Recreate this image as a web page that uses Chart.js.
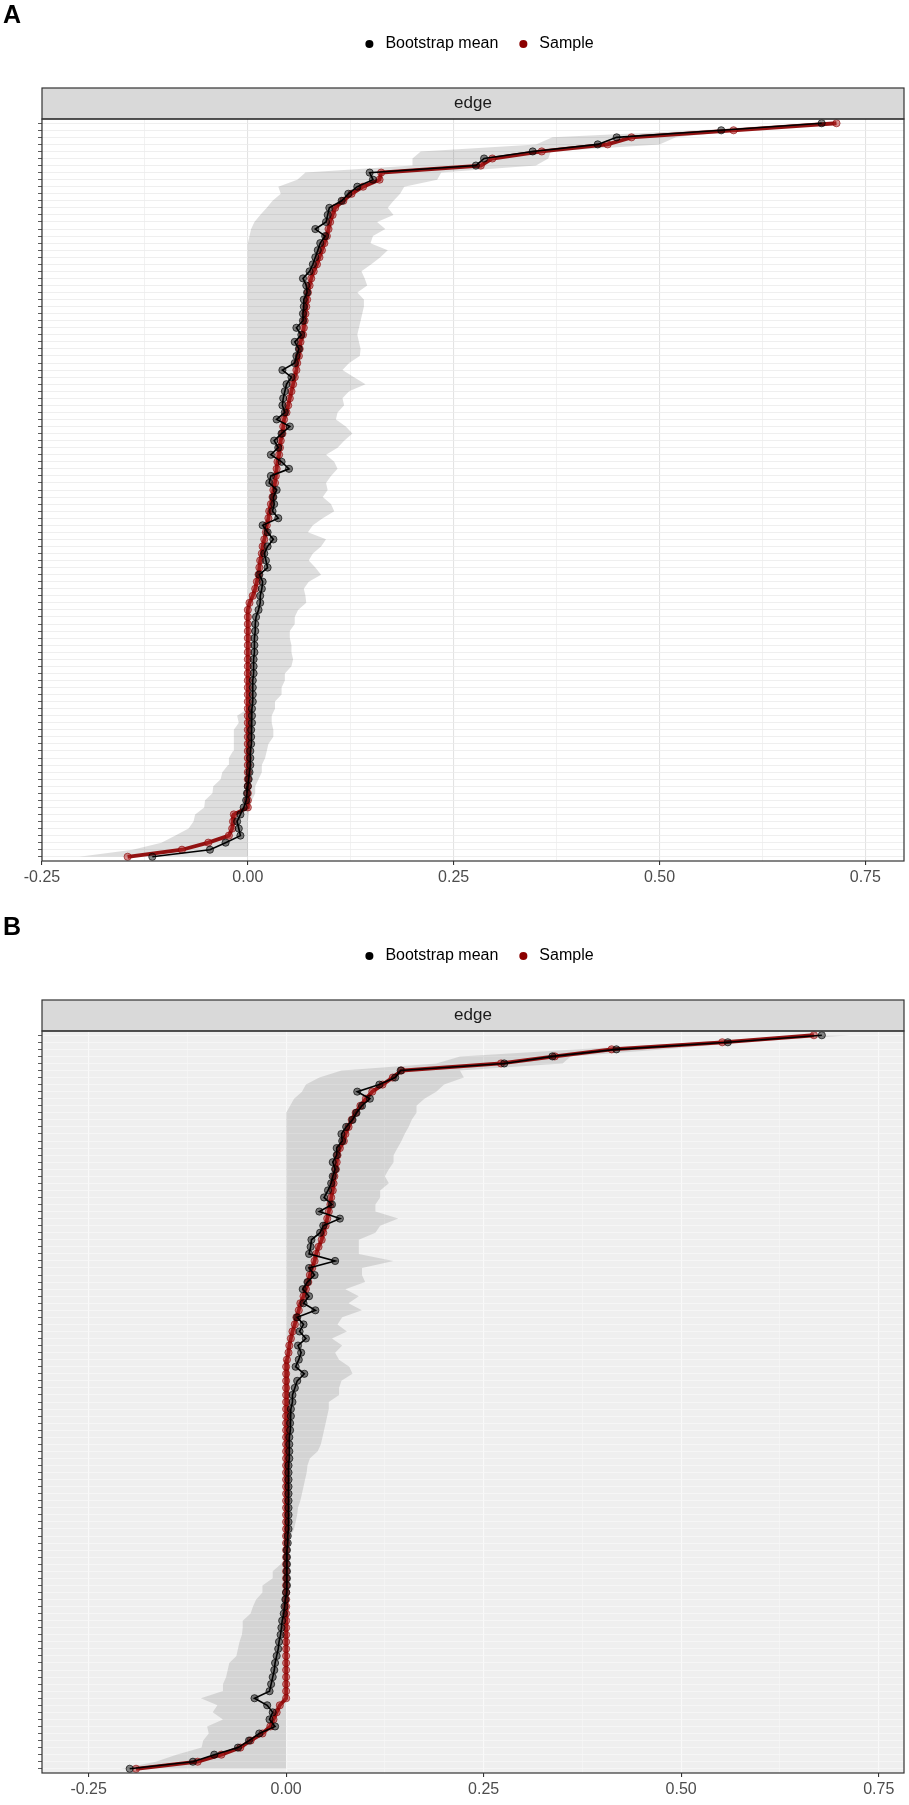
<!DOCTYPE html>
<html>
<head>
<meta charset="utf-8">
<title>Edge bootstrap</title>
<script src="https://cdn.jsdelivr.net/npm/chart.js@4.4.1/dist/chart.umd.min.js"></script>
<style>
  body { margin: 0; background: #fff; overflow: hidden; }
  canvas { display: block; }
</style>
</head>
<body>
<canvas id="panelA" width="909" height="912"></canvas>
<canvas id="panelB" width="909" height="893"></canvas>
<script>
const legendNames = ['Bootstrap mean', 'Sample'];
const legendColors = ['#000000', '#8B0000'];
const xTickValues = [-0.25, 0, 0.25, 0.5, 0.75];
const xTickLabels = ['-0.25', '0.00', '0.25', '0.50', '0.75'];
const xMinorValues = [-0.125, 0.125, 0.375, 0.625];

// panel A, edges ordered top (largest sample weight) to bottom
const sampleA = [
  0.715, 0.590, 0.466, 0.437, 0.357, 0.297, 0.283, 0.162, 0.160, 0.140,
  0.126, 0.116, 0.106, 0.103, 0.100, 0.098, 0.096, 0.093, 0.090, 0.087,
  0.084, 0.080, 0.077, 0.075, 0.073, 0.072, 0.071, 0.070, 0.069, 0.068,
  0.067, 0.064, 0.063, 0.062, 0.060, 0.059, 0.057, 0.055, 0.053, 0.051,
  0.049, 0.047, 0.044, 0.043, 0.042, 0.040, 0.039, 0.038, 0.036, 0.035,
  0.034, 0.033, 0.031, 0.030, 0.028, 0.026, 0.025, 0.023, 0.022, 0.020,
  0.018, 0.017, 0.015, 0.014, 0.013, 0.011, 0.009, 0.006, 0.002, 0,
  0, 0, 0, 0, 0, 0, 0, 0, 0, 0,
  0, 0, 0, 0, 0, 0, 0, 0, 0, 0,
  0, 0, 0, 0, 0, 0, 0, 0, -0.017, -0.018,
  -0.019, -0.023, -0.048, -0.080, -0.146,
];
const meanA = [
  0.697, 0.575, 0.448, 0.425, 0.346, 0.287, 0.277, 0.148, 0.152, 0.133,
  0.122, 0.114, 0.099, 0.097, 0.095, 0.082, 0.094, 0.088, 0.085, 0.082,
  0.079, 0.075, 0.067, 0.071, 0.072, 0.068, 0.068, 0.067, 0.067, 0.059,
  0.065, 0.057, 0.062, 0.059, 0.057, 0.042, 0.053, 0.047, 0.045, 0.043,
  0.042, 0.045, 0.035, 0.051, 0.041, 0.032, 0.037, 0.028, 0.041, 0.050,
  0.028, 0.026, 0.035, 0.031, 0.032, 0.030, 0.037, 0.018, 0.024, 0.031,
  0.024, 0.020, 0.022, 0.024, 0.014, 0.018, 0.017, 0.015, 0.015, 0.013,
  0.010, 0.009, 0.009, 0.008, 0.008, 0.008, 0.007, 0.007, 0.007, 0.006,
  0.006, 0.006, 0.006, 0.005, 0.005, 0.005, 0.004, 0.004, 0.004, 0.003,
  0.003, 0.003, 0.002, 0.001, 0.000, -0.001, -0.002, -0.005, -0.009, -0.013,
  -0.011, -0.009, -0.027, -0.046, -0.116,
];
const lowerA = [
  0.680, 0.550, 0.370, 0.350, 0.210, 0.200, 0.200, 0.070, 0.060, 0.037,
  0.040, 0.030, 0.023, 0.015, 0.008, 0.004, 0.002, 0, 0, 0,
  0, 0, 0, 0, 0, 0, 0, 0, 0, 0,
  0, 0, 0, 0, 0, 0, 0, 0, 0, 0,
  0, 0, 0, 0, 0, 0, 0, 0, 0, 0,
  0, 0, 0, 0, 0, 0, 0, 0, 0, 0,
  0, 0, 0, 0, 0, 0, 0, 0, 0, 0,
  0, 0, 0, 0, 0, 0, 0, 0, 0, 0,
  0, 0, 0, 0, -0.013, -0.011, -0.017, -0.017, -0.017, -0.018,
  -0.023, -0.024, -0.031, -0.033, -0.042, -0.043, -0.052, -0.053, -0.064, -0.066,
  -0.072, -0.088, -0.105, -0.140, -0.205,
];
const upperA = [
  0.725, 0.600, 0.520, 0.500, 0.368, 0.365, 0.350, 0.235, 0.230, 0.190,
  0.185, 0.177, 0.170, 0.177, 0.157, 0.167, 0.152, 0.149, 0.170, 0.161,
  0.150, 0.138, 0.142, 0.145, 0.133, 0.141, 0.141, 0.139, 0.137, 0.135,
  0.133, 0.135, 0.137, 0.136, 0.123, 0.115, 0.129, 0.143, 0.123, 0.115,
  0.117, 0.109, 0.107, 0.119, 0.127, 0.117, 0.109, 0.095, 0.105, 0.109,
  0.101, 0.095, 0.097, 0.091, 0.101, 0.105, 0.091, 0.079, 0.073, 0.095,
  0.089, 0.079, 0.074, 0.082, 0.089, 0.074, 0.068, 0.070, 0.071, 0.061,
  0.057, 0.057, 0.051, 0.051, 0.053, 0.053, 0.055, 0.053, 0.045, 0.045,
  0.041, 0.041, 0.033, 0.033, 0.029, 0.029, 0.031, 0.031, 0.025, 0.023,
  0.021, 0.017, 0.017, 0.013, 0.009, 0.009, 0.005, 0.003, 0.001, 0,
  0, 0, 0, 0, 0,
];

// panel B
const sampleB = [
  0.668, 0.552, 0.412, 0.340, 0.272, 0.146, 0.135, 0.122, 0.109, 0.101,
  0.094, 0.088, 0.083, 0.079, 0.075, 0.073, 0.068, 0.065, 0.064, 0.063,
  0.061, 0.060, 0.059, 0.057, 0.056, 0.054, 0.052, 0.050, 0.047, 0.045,
  0.041, 0.038, 0.036, 0.033, 0.030, 0.028, 0.025, 0.022, 0.018, 0.016,
  0.013, 0.011, 0.008, 0.006, 0.004, 0.003, 0.001, 0, 0, 0,
  0, 0, 0, 0, 0, 0, 0, 0, 0, 0,
  0, 0, 0, 0, 0, 0, 0, 0, 0, 0,
  0, 0, 0, 0, 0, 0, 0, 0, 0, 0,
  0, 0, 0, 0, 0, 0, 0, 0, 0, 0,
  0, 0, 0, 0, 0, -0.008, -0.012, -0.016, -0.020, -0.030,
  -0.045, -0.058, -0.082, -0.112, -0.190,
];
const meanB = [
  0.678, 0.559, 0.418, 0.337, 0.276, 0.145, 0.138, 0.118, 0.090, 0.106,
  0.096, 0.089, 0.084, 0.076, 0.070, 0.071, 0.064, 0.064, 0.059, 0.062,
  0.059, 0.057, 0.053, 0.048, 0.058, 0.042, 0.068, 0.047, 0.043, 0.032,
  0.031, 0.029, 0.062, 0.029, 0.036, 0.027, 0.021, 0.029, 0.022, 0.037,
  0.014, 0.022, 0.017, 0.025, 0.015, 0.019, 0.016, 0.012, 0.023, 0.014,
  0.011, 0.008, 0.008, 0.006, 0.006, 0.005, 0.005, 0.004, 0.004, 0.004,
  0.004, 0.003, 0.003, 0.003, 0.003, 0.003, 0.003, 0.003, 0.003, 0.003,
  0.003, 0.002, 0.002, 0.001, 0.001, 0.001, 0.001, 0.001, 0.001, 0.000,
  -0.001, -0.002, -0.003, -0.005, -0.006, -0.007, -0.009, -0.010, -0.012, -0.014,
  -0.015, -0.017, -0.019, -0.021, -0.040, -0.024, -0.017, -0.021, -0.014, -0.034,
  -0.047, -0.061, -0.091, -0.118, -0.198,
];
const lowerB = [
  0.650, 0.520, 0.370, 0.220, 0.190, 0.070, 0.042, 0.025, 0.020, 0.010,
  0.005, 0, 0, 0, 0, 0, 0, 0, 0, 0,
  0, 0, 0, 0, 0, 0, 0, 0, 0, 0,
  0, 0, 0, 0, 0, 0, 0, 0, 0, 0,
  0, 0, 0, 0, 0, 0, 0, 0, 0, 0,
  0, 0, 0, 0, 0, 0, 0, 0, 0, 0,
  0, 0, 0, 0, 0, 0, 0, 0, 0, 0,
  0, 0, 0, 0, 0, -0.007, -0.017, -0.017, -0.030, -0.030,
  -0.038, -0.042, -0.045, -0.055, -0.055, -0.056, -0.059, -0.061, -0.063, -0.072,
  -0.074, -0.076, -0.080, -0.081, -0.108, -0.087, -0.093, -0.080, -0.100, -0.098,
  -0.105, -0.107, -0.139, -0.165, -0.210,
];
const upperB = [
  0.715, 0.580, 0.480, 0.360, 0.350, 0.220, 0.225, 0.200, 0.190, 0.175,
  0.165, 0.165, 0.159, 0.155, 0.150, 0.146, 0.141, 0.136, 0.136, 0.130,
  0.125, 0.130, 0.119, 0.119, 0.113, 0.113, 0.142, 0.119, 0.113, 0.092,
  0.092, 0.092, 0.136, 0.096, 0.096, 0.100, 0.075, 0.092, 0.079, 0.096,
  0.071, 0.065, 0.077, 0.058, 0.071, 0.062, 0.067, 0.080, 0.084, 0.070,
  0.067, 0.067, 0.054, 0.054, 0.052, 0.050, 0.048, 0.046, 0.044, 0.040,
  0.030, 0.027, 0.026, 0.024, 0.022, 0.020, 0.018, 0.015, 0.014, 0.012,
  0.010, 0.006, 0.003, 0, 0, 0, 0, 0, 0, 0,
  0, 0, 0, 0, 0, 0, 0, 0, 0, 0,
  0, 0, 0, 0, 0, 0, 0, 0, 0, 0,
  0, 0, 0, 0, 0,
];

const FONT = "'Liberation Sans', Arial, Helvetica, sans-serif";

// facet strip, panel background and border, plus a small nudge of the legend
const panelDecor = {
  id: 'panelDecor',
  afterLayout(chart, args, opts) {
    chart.legend.left += opts.legendShift;
    chart.legend.right += opts.legendShift;
  },
  beforeDraw(chart, args, opts) {
    const { ctx, chartArea: a } = chart;
    ctx.save();
    ctx.fillStyle = opts.panelBg;
    ctx.fillRect(a.left, a.top, a.right - a.left, a.bottom - a.top);
    ctx.fillStyle = '#D9D9D9';
    ctx.fillRect(a.left, a.top - opts.stripHeight, a.right - a.left, opts.stripHeight);
    ctx.fillStyle = '#1A1A1A';
    ctx.font = `17px ${FONT}`;
    ctx.textAlign = 'center';
    ctx.textBaseline = 'middle';
    ctx.fillText(opts.stripText, (a.left + a.right) / 2, a.top - opts.stripHeight / 2);
    ctx.restore();
  },
  afterDraw(chart, args, opts) {
    const { ctx, chartArea: a } = chart;
    ctx.save();
    ctx.strokeStyle = '#333333';
    ctx.lineWidth = 1.2;
    ctx.strokeRect(a.left, a.top - opts.stripHeight, a.right - a.left, opts.stripHeight);
    ctx.strokeRect(a.left, a.top, a.right - a.left, a.bottom - a.top);
    ctx.restore();
  },
};

function makePanel(id, letter, sample, mean, lower, upper, xMin, xMax, look) {
  const pts = (vals) => vals.map((v, i) => ({ x: v, y: i }));
  const rowTicks = sample.map((_, i) => i);
  const xTicks = [...xTickValues, ...xMinorValues].sort((a, b) => a - b);
  const isMinor = (c) => c.tick && xMinorValues.includes(c.tick.value);

  return new Chart(document.getElementById(id), {
    type: 'line',
    data: {
      datasets: [
        {
          label: legendNames[0],
          data: pts(mean),
          borderColor: '#000000',
          borderWidth: 1.6,
          pointRadius: 3.6,
          pointBackgroundColor: 'rgba(0,0,0,0.45)',
          pointBorderColor: 'rgba(0,0,0,0.65)',
          pointBorderWidth: 1,
          order: 0,
        },
        {
          label: legendNames[1],
          data: pts(sample),
          borderColor: 'rgba(139,0,0,0.92)',
          borderWidth: 3.8,
          pointRadius: 3.6,
          pointBackgroundColor: 'rgba(175,35,35,0.5)',
          pointBorderColor: 'rgba(139,0,0,0.6)',
          pointBorderWidth: 1,
          order: 1,
        },
        {
          label: 'lower',
          data: pts(lower),
          borderColor: 'rgba(0,0,0,0)',
          borderWidth: 0,
          pointRadius: 0,
          fill: false,
          order: 2,
        },
        {
          label: 'upper',
          data: pts(upper),
          borderColor: 'rgba(0,0,0,0)',
          borderWidth: 0,
          pointRadius: 0,
          fill: '-1',
          backgroundColor: look.ribbon,
          order: 2,
        },
      ],
    },
    options: {
      indexAxis: 'y',
      responsive: false,
      animation: false,
      devicePixelRatio: 1,
      events: [],
      layout: { padding: { left: 3, right: 1, top: 0, bottom: 0 } },
      scales: {
        x: {
          type: 'linear',
          position: 'bottom',
          min: xMin,
          max: xMax,
          afterBuildTicks: (s) => { s.ticks = xTicks.map((v) => ({ value: v })); },
          afterFit: (s) => { s.height = look.xAxisHeight; },
          ticks: {
            autoSkip: false,
            maxRotation: 0,
            padding: 3,
            color: '#4D4D4D',
            font: { family: FONT, size: 16 },
            callback: (v) => {
              const k = xTickValues.indexOf(v);
              return k >= 0 ? xTickLabels[k] : '';
            },
          },
          grid: {
            color: (c) => (isMinor(c) ? look.minorGrid : look.majorGrid),
            lineWidth: (c) => (isMinor(c) ? 0.7 : 1.1),
            tickColor: (c) => (isMinor(c) ? 'rgba(0,0,0,0)' : '#333333'),
            tickLength: 4,
          },
          border: { display: false },
        },
        y: {
          type: 'linear',
          position: 'left',
          min: -0.6,
          max: sample.length - 0.4,
          reverse: true,
          afterBuildTicks: (s) => { s.ticks = rowTicks.map((v) => ({ value: v })); },
          afterFit: (s) => { s.width = 39; },
          ticks: { autoSkip: false, padding: 0, callback: () => '' },
          grid: { color: look.rowGrid, lineWidth: 0.8, tickColor: '#333333', tickLength: 4 },
          border: { display: false },
        },
        strip: {
          type: 'linear',
          position: 'top',
          display: true,
          afterFit: (s) => { s.height = 57; },
          ticks: { display: false },
          grid: { display: false, drawTicks: false },
          border: { display: false },
        },
      },
      plugins: {
        title: {
          display: true,
          text: letter,
          align: 'start',
          color: '#000000',
          font: { family: FONT, size: 25, weight: 'bold' },
          padding: { top: 1, bottom: -12 },
        },
        legend: {
          display: true,
          position: 'top',
          labels: {
            usePointStyle: true,
            boxWidth: 16,
            boxHeight: 5.7,
            padding: 17,
            color: '#000000',
            font: { family: FONT, size: 16 },
            generateLabels: () => legendNames.map((t, i) => ({
              text: t,
              fillStyle: legendColors[i],
              strokeStyle: legendColors[i],
              lineWidth: 0,
              pointStyle: 'circle',
              hidden: false,
              datasetIndex: i,
            })),
          },
        },
        tooltip: { enabled: false },
        panelDecor: { panelBg: look.bg, stripHeight: 31, stripText: 'edge', legendShift: 22 },
      },
    },
    plugins: [panelDecor],
  });
}

makePanel('panelA', 'A', sampleA, meanA, lowerA, upperA, -0.25, 0.797, {
  bg: '#FFFFFF', rowGrid: '#EBEBEB', majorGrid: '#E3E3E3', minorGrid: '#EDEDED',
  ribbon: 'rgba(0,0,0,0.13)', xAxisHeight: 51,
});
makePanel('panelB', 'B', sampleB, meanB, lowerB, upperB, -0.309, 0.782, {
  bg: '#EFEFEF', rowGrid: '#F7F7F7', majorGrid: '#F9F9F9', minorGrid: '#F7F7F7',
  ribbon: 'rgba(0,0,0,0.11)', xAxisHeight: 32,
});
</script>
</body>
</html>
